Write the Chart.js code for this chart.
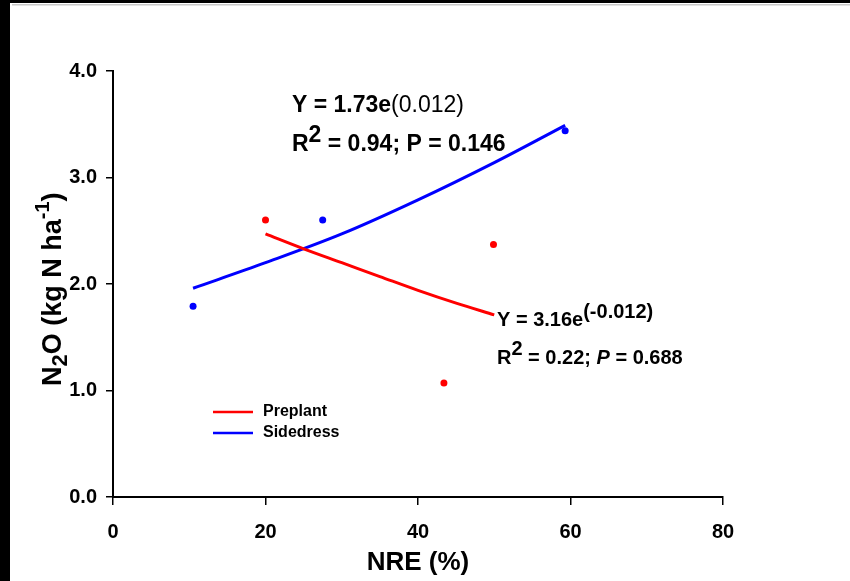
<!DOCTYPE html>
<html>
<head>
<meta charset="utf-8">
<script src="https://cdn.jsdelivr.net/npm/chart.js@4.4.1/dist/chart.umd.min.js"></script>
<style>
  html, body { margin: 0; padding: 0; background: #fff; }
  #wrap { width: 850px; height: 581px; position: relative; }
</style>
</head>
<body>
<div id="wrap"><canvas id="plot" width="850" height="581"></canvas></div>
<script>
const FONT = "'Liberation Sans', Arial, sans-serif"

// measured points
const preplantNRE = [20.0, 49.9, 43.4]
const preplantN2O = [2.60, 2.37, 1.07]
const sidedressNRE = [10.5, 27.5, 59.3]
const sidedressN2O = [1.79, 2.60, 3.44]

// fitted exponential curves
const preplantFitX = [20, 25, 30, 35, 40, 45, 50]
const preplantFitY = [2.47, 2.33, 2.20, 2.07, 1.94, 1.82, 1.71]
const sidedressFitX = [10.5, 20, 30, 40, 50, 59.3]
const sidedressFitY = [1.96, 2.20, 2.47, 2.79, 3.14, 3.49]

const seriesNames = ['Preplant', 'Sidedress']
const seriesColors = ['#ff0000', '#0000ff']

const yTicks = [0, 1, 2, 3, 4]
const xTicks = [0, 20, 40, 60, 80]

function pairs(xs, ys) {
    return xs.map((x, i) => ({ x: x, y: ys[i] }))
}

// draws a row of text pieces with their own font and vertical shift
function drawRuns(ctx, x, y, runs) {
    let cx = x
    for (const r of runs) {
        ctx.font = r.font
        ctx.fillText(r.text, cx, y + (r.dy || 0))
        cx += ctx.measureText(r.text).width
    }
}

const frame = {
    id: 'frame',
    beforeDraw(chart) {
        const ctx = chart.ctx
        ctx.save()
        ctx.fillStyle = '#fff'
        ctx.fillRect(0, 0, chart.width, chart.height)
        ctx.fillStyle = '#000'
        ctx.fillRect(0, 0, 10, chart.height)
        ctx.fillRect(0, 0, chart.width, 3)
        ctx.fillStyle = '#c8c8c8'
        ctx.fillRect(12, 4, chart.width - 12, 1.5)
        ctx.restore()
    }
}

const labels = {
    id: 'labels',
    afterDraw(chart) {
        const ctx = chart.ctx
        const b = 'bold '
        ctx.save()
        ctx.fillStyle = '#000'
        ctx.textBaseline = 'alphabetic'
        ctx.textAlign = 'left'

        // y axis title, rotated
        ctx.save()
        ctx.translate(61, 386)
        ctx.rotate(-Math.PI / 2)
        drawRuns(ctx, 0, 0, [
            { text: 'N', font: b + '27px ' + FONT },
            { text: '2', font: b + '22px ' + FONT, dy: 6 },
            { text: 'O (kg N ha', font: b + '27px ' + FONT },
            { text: '-1', font: b + '20px ' + FONT, dy: -12 },
            { text: ')', font: b + '27px ' + FONT }
        ])
        ctx.restore()

        // sidedress equation
        drawRuns(ctx, 292, 112, [
            { text: 'Y = 1.73e', font: b + '23px ' + FONT },
            { text: '(0.012)', font: '23px ' + FONT }
        ])
        drawRuns(ctx, 292, 151, [
            { text: 'R', font: b + '23px ' + FONT },
            { text: '2', font: b + '23px ' + FONT, dy: -9 },
            { text: ' = 0.94; P = 0.146', font: b + '23px ' + FONT }
        ])

        // preplant equation
        drawRuns(ctx, 497, 326, [
            { text: 'Y = 3.16e', font: b + '20px ' + FONT },
            { text: '(-0.012)', font: b + '20px ' + FONT, dy: -8 }
        ])
        drawRuns(ctx, 497, 364, [
            { text: 'R', font: b + '20px ' + FONT },
            { text: '2', font: b + '20px ' + FONT, dy: -9 },
            { text: ' = 0.22; ', font: b + '20px ' + FONT },
            { text: 'P', font: 'italic bold 20px ' + FONT },
            { text: ' = 0.688', font: b + '20px ' + FONT }
        ])

        // legend
        ctx.font = b + '16px ' + FONT
        ctx.textBaseline = 'middle'
        seriesNames.forEach((name, i) => {
            const y = 412 + i * 21
            ctx.strokeStyle = seriesColors[i]
            ctx.lineWidth = 2.5
            ctx.beginPath()
            ctx.moveTo(213, y)
            ctx.lineTo(253, y)
            ctx.stroke()
            ctx.fillText(name, 263, y)
        })
        ctx.restore()
    }
}

const config = {
    type: 'scatter',
    data: {
        datasets: [
            {
                label: seriesNames[0] + ' fit',
                data: pairs(preplantFitX, preplantFitY),
                showLine: true,
                borderColor: seriesColors[0],
                borderWidth: 3,
                pointRadius: 0,
                cubicInterpolationMode: 'monotone'
            },
            {
                label: seriesNames[1] + ' fit',
                data: pairs(sidedressFitX, sidedressFitY),
                showLine: true,
                borderColor: seriesColors[1],
                borderWidth: 3,
                pointRadius: 0,
                cubicInterpolationMode: 'monotone'
            },
            {
                label: seriesNames[0],
                data: pairs(preplantNRE, preplantN2O),
                backgroundColor: seriesColors[0],
                borderWidth: 0,
                pointRadius: 3.5
            },
            {
                label: seriesNames[1],
                data: pairs(sidedressNRE, sidedressN2O),
                backgroundColor: seriesColors[1],
                borderWidth: 0,
                pointRadius: 3.5
            }
        ]
    },
    options: {
        responsive: false,
        animation: false,
        layout: {
            padding: { top: 71, right: 127, left: 0, bottom: 0 }
        },
        plugins: {
            legend: { display: false },
            tooltip: { enabled: false }
        },
        scales: {
            x: {
                type: 'linear',
                min: xTicks[0],
                max: xTicks[xTicks.length - 1],
                afterBuildTicks: (s) => { s.ticks = xTicks.map(v => ({ value: v })) },
                afterFit: (s) => { s.height = 84 },
                border: { color: '#000', width: 2 },
                grid: { drawOnChartArea: false, color: '#000', lineWidth: 1.5, tickLength: 8 },
                ticks: {
                    color: '#000',
                    padding: 15,
                    font: { family: FONT, size: 20, weight: 'bold' }
                },
                title: {
                    display: true,
                    text: 'NRE (%)',
                    color: '#000',
                    font: { family: FONT, size: 26, weight: 'bold' },
                    padding: { top: 0, bottom: 3 }
                }
            },
            y: {
                type: 'linear',
                min: yTicks[0],
                max: yTicks[yTicks.length - 1],
                afterBuildTicks: (s) => { s.ticks = yTicks.map(v => ({ value: v })) },
                afterFit: (s) => { s.width = 113 },
                border: { color: '#000', width: 2 },
                grid: { drawOnChartArea: false, color: '#000', lineWidth: 1.5, tickLength: 7 },
                ticks: {
                    color: '#000',
                    padding: 9,
                    font: { family: FONT, size: 20, weight: 'bold' },
                    callback: (v) => v.toFixed(1)
                }
            }
        }
    },
    plugins: [frame, labels]
}

const chart = new Chart(document.getElementById('plot'), config)
</script>
</body>
</html>
